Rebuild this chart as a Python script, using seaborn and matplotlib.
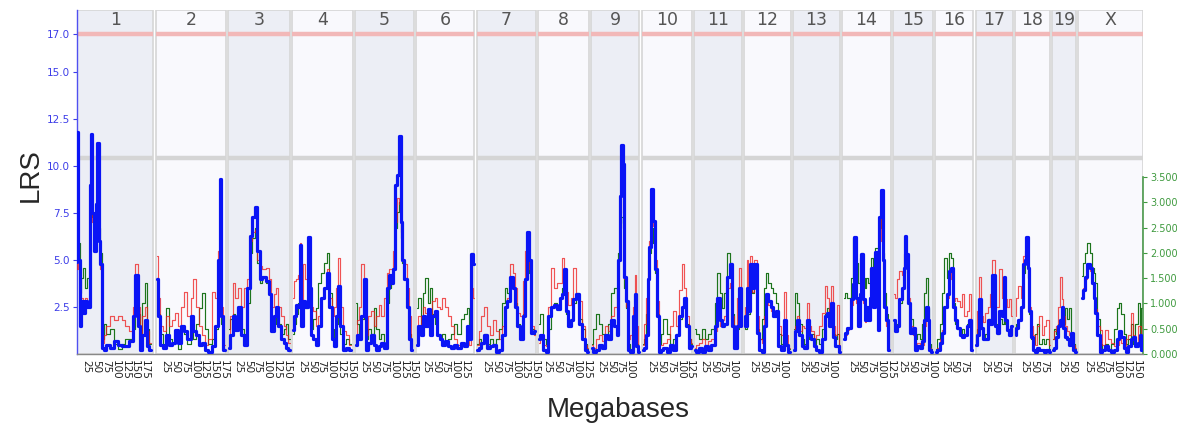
import matplotlib
matplotlib.use("Agg")
import matplotlib.pyplot as plt
import pandas as pd
import seaborn as sns

# ---------------- data ----------------
chrom_names = ["1", "2", "3", "4", "5", "6", "7", "8", "9", "10",
               "11", "12", "13", "14", "15", "16", "17", "18", "19", "X"]
chrom_lengths = [197.2, 181.7, 159.6, 155.6, 152.5, 149.5, 152.5, 131.7, 124.1, 130.0,
                 121.8, 121.3, 120.3, 125.2, 103.5, 98.3, 95.3, 90.8, 61.3, 166.7]
lrs_ticks = [2.5, 5.0, 7.5, 10.0, 12.5, 15.0, 17.0]
add_ticks = [0.0, 0.5, 1.0, 1.5, 2.0, 2.5, 3.0, 3.5]
significant = 17.0
suggestive = 10.45

# rows: (Mb, LRS blue, LRS red, additive effect green)
chr1 = [(0, 4.9, 4.5, 2.0), (2, 11.8, 6.0, 2.3), (5, 5.0, 4.5, 2.2), (9, 1.5, 1.5, 1.2),
        (14, 2.8, 3.0, 1.5), (18, 2.2, 2.5, 1.7), (24, 2.8, 3.0, 1.3), (30, 2.5, 2.5, 1.5),
        (36, 9.0, 8.0, 2.8), (38, 11.7, 9.0, 3.0), (42, 7.5, 7.0, 2.7), (46, 5.5, 5.5, 2.5),
        (50, 8.0, 7.5, 2.9), (55, 11.2, 9.0, 3.1), (58, 6.0, 6.0, 2.5), (62, 4.8, 4.5, 2.0),
        (66, 0.3, 0.6, 0.3), (72, 0.2, 1.0, 0.6), (80, 0.5, 1.5, 0.4), (90, 0.3, 2.0, 0.5),
        (100, 0.7, 1.8, 0.2), (110, 0.5, 2.0, 0.1), (120, 0.4, 1.8, 0.2), (130, 0.4, 1.5, 0.3),
        (140, 0.7, 1.2, 0.3), (148, 2.0, 2.5, 0.5), (154, 4.2, 4.8, 1.0), (160, 1.5, 2.5, 0.8),
        (166, 0.2, 0.5, 0.2), (172, 1.0, 2.0, 1.0), (178, 1.8, 2.5, 1.4), (184, 0.4, 1.2, 0.5),
        (190, 0.2, 0.6, 0.2)]
chr2 = [(3, 4.0, 5.2, 1.5), (8, 2.0, 3.0, 0.8), (14, 0.5, 1.5, 0.4), (22, 0.3, 1.2, 0.2),
        (30, 1.0, 2.0, 0.9), (38, 0.5, 1.5, 0.3), (46, 0.6, 1.8, 0.2), (54, 1.3, 2.2, 0.4),
        (62, 0.6, 1.5, 0.1), (70, 1.5, 2.5, 0.5), (78, 1.2, 3.3, 0.4), (86, 0.8, 2.0, 0.2),
        (94, 2.0, 3.0, 0.5), (100, 1.2, 4.0, 0.3), (108, 1.0, 2.5, 0.6), (116, 0.5, 1.5, 0.9),
        (124, 0.6, 1.0, 1.2), (132, 0.2, 0.5, 0.5), (140, 0.1, 0.8, 0.2), (150, 0.4, 3.3, 0.3),
        (158, 1.5, 3.0, 0.5), (164, 5.0, 5.5, 1.0), (167, 9.3, 7.0, 1.5), (172, 2.0, 2.5, 0.6),
        (178, 0.2, 0.5, 0.1)]
chr3 = [(2, 0.3, 0.6, 0.5), (8, 1.0, 2.0, 0.7), (14, 2.0, 3.8, 0.8), (20, 1.3, 3.0, 0.6),
        (28, 2.5, 3.5, 0.9), (36, 1.0, 2.5, 0.5), (44, 0.5, 3.5, 0.4), (52, 3.5, 4.0, 1.0),
        (58, 6.3, 6.0, 2.0), (66, 7.3, 6.5, 2.3), (72, 7.8, 6.6, 2.5), (78, 5.5, 5.0, 1.8),
        (84, 4.0, 4.7, 1.4), (92, 4.1, 4.5, 1.5), (100, 3.9, 4.6, 1.4), (108, 3.2, 4.0, 1.2),
        (114, 1.2, 2.5, 0.5), (120, 2.0, 3.2, 0.6), (126, 2.5, 3.5, 0.8), (132, 1.5, 2.5, 0.6),
        (140, 0.8, 2.0, 0.4), (146, 0.6, 1.5, 0.5), (152, 0.3, 1.0, 0.6), (158, 0.2, 0.6, 0.3)]
chr4 = [(2, 1.3, 3.0, 0.4), (6, 2.0, 3.9, 0.6), (12, 2.6, 4.0, 0.8), (18, 2.5, 4.2, 1.0),
        (20, 5.8, 5.9, 1.8), (24, 1.5, 2.8, 0.6), (30, 2.8, 4.8, 1.0), (36, 2.5, 4.0, 0.9),
        (42, 6.2, 5.5, 2.0), (46, 3.5, 3.5, 1.2), (50, 1.0, 2.5, 0.5), (58, 0.8, 2.3, 0.7),
        (64, 0.5, 1.5, 0.9), (70, 1.5, 2.0, 1.4), (78, 3.0, 3.0, 1.6), (86, 3.5, 3.5, 1.8),
        (92, 4.3, 4.5, 2.0), (98, 2.5, 3.0, 1.2), (104, 0.8, 2.0, 0.5), (110, 0.4, 2.5, 0.3),
        (116, 2.0, 3.5, 0.6), (120, 3.6, 5.1, 0.9), (126, 1.5, 2.5, 0.4), (134, 0.2, 1.2, 0.2),
        (142, 0.3, 1.0, 0.3), (150, 0.2, 0.5, 0.2)]
chr5 = [(2, 0.5, 1.0, 1.0), (6, 1.0, 1.8, 0.6), (12, 0.8, 2.5, 0.4), (20, 2.0, 4.8, 0.7),
        (24, 4.0, 4.0, 1.2), (30, 0.2, 1.0, 0.3), (38, 0.6, 2.0, 0.5), (44, 1.0, 2.3, 0.4),
        (52, 0.5, 1.5, 0.9), (58, 0.2, 2.0, 0.5), (64, 0.4, 2.6, 0.3), (72, 0.6, 2.0, 0.4),
        (80, 0.3, 3.0, 0.2), (86, 3.5, 4.3, 1.0), (90, 4.2, 4.5, 1.3), (96, 3.8, 4.5, 1.4),
        (102, 4.5, 5.5, 1.7), (106, 9.0, 7.0, 2.5), (112, 9.5, 8.3, 2.8), (116, 11.6, 8.0, 3.0),
        (120, 7.0, 6.5, 2.3), (124, 5.0, 5.0, 1.8), (130, 4.0, 4.8, 1.5), (136, 2.5, 3.5, 0.9),
        (142, 0.8, 2.0, 0.4), (148, 0.2, 0.6, 0.2)]
chr6 = [(2, 0.5, 1.0, 0.9), (8, 1.5, 2.0, 1.1), (14, 1.0, 1.5, 0.6), (20, 2.0, 2.5, 1.2),
        (26, 1.5, 2.2, 1.5), (32, 2.4, 2.3, 1.0), (38, 1.0, 2.0, 1.3), (44, 2.0, 2.8, 0.8),
        (50, 2.3, 3.0, 0.6), (56, 1.0, 2.5, 0.4), (64, 0.8, 2.4, 0.3), (70, 0.5, 3.0, 0.4),
        (78, 0.7, 2.5, 0.2), (86, 0.4, 2.0, 0.3), (94, 0.3, 1.5, 0.4), (102, 0.5, 0.8, 0.6),
        (110, 0.3, 0.5, 0.4), (118, 0.6, 0.6, 0.7), (126, 0.4, 0.5, 0.8), (134, 1.5, 1.0, 0.9),
        (140, 0.8, 0.5, 0.6), (144, 5.3, 3.5, 2.0), (148, 4.8, 3.0, 1.8)]
chr7 = [(2, 0.2, 0.5, 0.2), (8, 0.3, 1.2, 0.3), (16, 0.6, 2.0, 0.2), (22, 1.0, 2.5, 0.4),
        (30, 0.3, 1.5, 0.2), (38, 0.4, 1.0, 0.3), (46, 0.5, 1.8, 0.2), (54, 0.1, 1.2, 0.3),
        (62, 0.2, 0.8, 0.5), (70, 1.0, 1.5, 1.0), (76, 2.5, 2.5, 1.3), (82, 2.8, 3.0, 1.2),
        (90, 4.1, 4.8, 1.5), (96, 3.5, 4.3, 1.3), (102, 2.5, 3.5, 1.0), (108, 1.5, 2.2, 0.6),
        (116, 0.8, 2.0, 0.5), (122, 2.0, 3.9, 0.8), (128, 4.0, 5.5, 1.5), (133, 6.5, 6.0, 2.2),
        (138, 5.0, 4.5, 1.6), (144, 1.1, 1.5, 0.5), (150, 1.2, 1.0, 0.4)]
chr8 = [(2, 0.8, 0.6, 0.6), (8, 1.0, 0.8, 0.8), (16, 0.2, 0.5, 0.3), (24, 0.1, 0.4, 0.2),
        (30, 2.0, 2.5, 0.5), (36, 2.5, 4.6, 0.9), (44, 2.6, 3.5, 1.0), (52, 2.4, 3.8, 0.9),
        (60, 3.0, 3.8, 1.1), (64, 3.2, 5.1, 1.3), (68, 4.5, 4.5, 1.6), (74, 2.3, 3.3, 0.8),
        (80, 1.5, 2.6, 0.6), (88, 1.8, 3.0, 0.7), (94, 2.9, 4.6, 1.0), (102, 3.2, 3.0, 1.2),
        (110, 1.6, 2.8, 0.7), (116, 0.8, 1.5, 0.5), (124, 0.2, 0.5, 0.2), (130, 0.1, 0.3, 0.1)]
chr9 = [(2, 0.3, 0.5, 0.2), (8, 0.1, 0.3, 0.5), (16, 0.2, 0.8, 0.8), (24, 0.5, 1.0, 0.6),
        (32, 0.3, 0.7, 0.4), (40, 1.0, 1.5, 0.3), (48, 0.8, 1.2, 0.6), (56, 1.8, 2.0, 1.2),
        (62, 1.5, 2.5, 1.3), (68, 1.0, 3.0, 1.1), (72, 5.0, 5.0, 2.0), (75, 8.4, 7.5, 2.5),
        (79, 11.1, 9.0, 2.7), (83, 10.1, 8.5, 2.6), (88, 4.1, 4.0, 1.3), (92, 2.8, 2.5, 0.9),
        (96, 0.2, 0.8, 0.2), (104, 0.1, 1.0, 0.1), (110, 2.0, 2.5, 0.4), (113, 3.2, 4.2, 0.8),
        (118, 0.4, 1.5, 0.2), (122, 0.1, 0.4, 0.1)]
chr10 = [(2, 0.2, 0.5, 0.2), (8, 0.3, 1.6, 0.3), (14, 1.0, 3.0, 0.8), (18, 4.0, 5.0, 1.5),
         (22, 5.7, 6.0, 2.0), (27, 8.8, 8.6, 2.5), (31, 7.1, 6.8, 2.2), (36, 4.5, 5.0, 1.6),
         (41, 2.0, 2.8, 0.8), (46, 0.1, 0.5, 0.2), (52, 0.2, 0.5, 0.4), (60, 0.3, 0.6, 0.7),
         (68, 0.1, 0.8, 0.4), (76, 0.5, 1.5, 0.2), (84, 0.2, 2.3, 0.3), (92, 1.0, 1.5, 0.4),
         (100, 2.0, 3.4, 0.7), (108, 2.5, 4.8, 0.9), (112, 3.0, 3.5, 1.0), (118, 1.5, 2.0, 0.6),
         (124, 0.3, 0.8, 0.3), (129, 0.4, 0.6, 0.2)]
chr11 = [(2, 0.2, 0.3, 0.5), (8, 0.1, 0.5, 0.4), (16, 0.3, 0.6, 0.3), (24, 0.1, 0.8, 0.5),
         (32, 0.4, 0.5, 0.3), (40, 0.2, 0.7, 0.4), (48, 0.5, 0.8, 0.5), (56, 1.5, 1.2, 1.0),
         (62, 3.0, 2.5, 1.6), (68, 1.8, 1.5, 1.2), (74, 1.5, 1.8, 0.9), (80, 1.6, 2.0, 1.2),
         (88, 4.1, 3.5, 2.0), (94, 4.8, 3.8, 1.8), (100, 1.5, 2.0, 0.8), (106, 0.3, 1.0, 0.3),
         (112, 1.5, 3.0, 0.5), (118, 3.5, 4.6, 1.2), (121, 1.5, 2.0, 0.6)]
chr12 = [(2, 2.0, 2.5, 0.6), (6, 1.5, 2.0, 0.5), (9, 3.5, 5.0, 1.0), (14, 2.3, 3.0, 0.8),
         (19, 4.8, 5.2, 1.5), (24, 3.5, 3.3, 1.2), (30, 4.8, 5.0, 1.4), (36, 1.1, 2.0, 0.5),
         (42, 0.2, 0.8, 0.3), (50, 0.1, 0.6, 0.7), (56, 1.5, 2.0, 1.3), (60, 3.2, 3.0, 1.6),
         (66, 2.8, 2.6, 1.4), (72, 2.5, 2.3, 1.3), (80, 2.0, 2.3, 1.2), (84, 2.3, 2.0, 1.0),
         (92, 0.4, 1.5, 0.4), (100, 0.2, 1.0, 0.2), (106, 1.8, 3.3, 0.6), (112, 0.5, 1.0, 0.2),
         (118, 0.1, 0.3, 0.1)]
chr13 = [(2, 0.2, 0.4, 0.5), (8, 1.2, 1.5, 1.2), (12, 1.8, 2.0, 1.0), (18, 1.0, 1.2, 0.6),
         (26, 0.4, 1.5, 0.3), (32, 0.3, 1.4, 0.2), (38, 1.8, 2.7, 0.5), (44, 1.0, 1.5, 0.3),
         (50, 0.8, 1.2, 0.4), (56, 0.4, 0.8, 0.2), (64, 0.2, 1.0, 0.3), (70, 0.1, 1.5, 0.2),
         (78, 0.8, 2.2, 0.5), (84, 2.0, 3.6, 0.8), (90, 2.2, 3.0, 0.9), (96, 1.5, 2.2, 0.6),
         (100, 2.7, 3.6, 1.0), (106, 0.9, 1.5, 0.4), (112, 0.4, 1.0, 0.3), (116, 0.4, 2.6, 0.4),
         (120, 0.1, 0.5, 0.1)]
chr14 = [(4, 0.8, 0.8, 1.1), (9, 1.1, 1.0, 1.2), (16, 1.4, 1.3, 1.1), (22, 1.4, 1.4, 1.1),
         (26, 2.9, 2.6, 1.5), (30, 3.7, 3.3, 2.3), (34, 6.2, 5.5, 2.3), (38, 3.0, 2.7, 1.8),
         (43, 1.5, 1.5, 1.4), (48, 3.2, 2.8, 1.9), (52, 5.3, 4.8, 2.0), (56, 2.9, 2.7, 1.5),
         (60, 1.8, 1.7, 1.3), (65, 2.5, 2.3, 1.5), (70, 1.8, 1.8, 1.4), (74, 3.0, 2.8, 1.7),
         (77, 4.6, 4.2, 1.9), (82, 2.5, 2.5, 1.4), (89, 5.4, 5.0, 2.1), (94, 1.3, 1.5, 1.0),
         (99, 7.3, 6.0, 2.5), (103, 8.7, 7.5, 2.7), (107, 5.0, 4.5, 2.0), (112, 2.5, 2.5, 1.2),
         (117, 1.8, 1.5, 0.8), (121, 0.2, 0.3, 0.2)]
chr15 = [(2, 1.8, 3.2, 0.6), (8, 1.2, 3.0, 0.5), (14, 1.5, 4.0, 0.6), (19, 2.9, 4.4, 1.0),
         (26, 3.5, 4.2, 1.3), (30, 4.6, 5.3, 1.6), (33, 6.3, 6.1, 2.2), (37, 5.3, 5.0, 1.8),
         (42, 2.7, 3.0, 1.0), (48, 1.1, 1.5, 0.7), (54, 1.4, 1.0, 0.5), (60, 0.2, 0.5, 0.3),
         (66, 0.4, 0.6, 0.4), (72, 0.3, 0.4, 0.3), (78, 0.7, 0.5, 0.6), (84, 1.8, 1.5, 1.2),
         (88, 2.5, 2.0, 1.5), (92, 1.8, 1.2, 0.9), (96, 0.2, 0.3, 0.2), (102, 0.1, 0.2, 0.1)]
chr16 = [(2, 0.1, 0.2, 0.1), (8, 0.2, 0.3, 0.3), (14, 0.6, 0.8, 0.6), (20, 1.1, 1.3, 1.2),
         (26, 2.5, 2.5, 1.9), (32, 3.2, 3.0, 1.5), (38, 4.4, 4.0, 2.0), (43, 4.6, 4.3, 1.9),
         (48, 2.5, 2.8, 1.0), (54, 1.8, 3.0, 0.6), (60, 1.4, 2.8, 0.5), (66, 1.0, 2.5, 0.4),
         (72, 0.9, 3.2, 0.5), (78, 1.0, 2.0, 0.4), (84, 1.5, 2.3, 0.6), (90, 1.8, 3.2, 0.7),
         (96, 0.2, 0.5, 0.2)]
chr17 = [(2, 0.5, 1.0, 0.3), (6, 1.0, 2.3, 0.5), (12, 2.9, 4.1, 0.9), (16, 1.4, 2.0, 0.5),
         (22, 0.8, 1.7, 0.3), (28, 0.8, 2.2, 0.4), (34, 1.8, 2.5, 0.7), (40, 1.6, 3.2, 0.6),
         (46, 4.2, 5.0, 1.4), (52, 1.5, 2.5, 0.6), (58, 1.1, 2.5, 0.4), (64, 2.3, 4.5, 0.7),
         (70, 2.0, 3.0, 0.6), (74, 4.1, 3.8, 1.3), (78, 1.8, 2.9, 0.6), (84, 1.3, 2.5, 0.5),
         (90, 1.0, 2.9, 0.5), (94, 1.5, 2.0, 0.4)]
chr18 = [(2, 1.0, 2.0, 0.5), (6, 1.4, 3.0, 0.6), (12, 1.8, 3.6, 0.7), (18, 2.5, 3.0, 0.9),
         (24, 4.8, 5.2, 1.6), (28, 5.0, 5.5, 1.8), (31, 6.2, 5.8, 2.0), (35, 4.6, 4.5, 1.5),
         (40, 2.3, 2.5, 0.8), (44, 0.9, 1.5, 0.3), (48, 0.2, 1.0, 0.2), (54, 0.1, 0.5, 0.4),
         (60, 0.3, 1.5, 0.6), (66, 0.2, 2.0, 0.2), (72, 0.2, 1.0, 0.3), (78, 0.1, 1.5, 0.2),
         (84, 0.2, 1.8, 0.3), (90, 0.1, 0.5, 0.1)]
chr19 = [(2, 0.2, 0.8, 0.3), (6, 0.3, 1.2, 0.5), (12, 0.9, 1.5, 0.4), (18, 1.5, 2.5, 0.6),
         (22, 1.8, 4.1, 0.7), (26, 2.5, 2.9, 0.9), (30, 1.4, 2.0, 0.6), (34, 0.9, 1.5, 0.9),
         (40, 0.8, 1.2, 0.7), (44, 0.5, 1.0, 0.9), (50, 1.1, 1.0, 0.4), (55, 0.2, 0.5, 0.2),
         (60, 0.1, 0.3, 0.1)]
chrX = [(9, 3.0, 3.0, 1.55), (14, 3.4, 3.5, 1.8), (20, 4.1, 4.0, 2.0), (26, 4.8, 4.6, 2.2),
        (32, 4.6, 4.4, 2.0), (38, 3.8, 3.8, 1.7), (42, 3.0, 3.0, 1.6), (46, 2.2, 2.4, 1.4),
        (52, 1.0, 1.5, 0.7), (57, 0.1, 1.3, 0.2), (64, 0.2, 0.5, 0.1), (72, 0.4, 1.3, 0.2),
        (80, 0.2, 0.8, 0.1), (88, 0.1, 0.6, 0.2), (96, 0.2, 0.4, 0.5), (102, 0.8, 0.5, 0.9),
        (108, 1.2, 0.8, 1.0), (114, 0.9, 0.6, 0.8), (120, 0.3, 0.4, 0.4), (126, 0.1, 0.8, 0.2),
        (132, 0.4, 1.0, 0.3), (138, 0.8, 2.2, 0.6), (144, 0.9, 1.0, 0.2), (150, 0.4, 0.6, 0.6),
        (156, 0.6, 1.5, 1.0), (160, 1.0, 1.5, 0.3), (164, 0.2, 0.8, 0.9)]

chrom_rows = [chr1, chr2, chr3, chr4, chr5, chr6, chr7, chr8, chr9, chr10,
              chr11, chr12, chr13, chr14, chr15, chr16, chr17, chr18, chr19, chrX]

# ---------------- layout ----------------
W, H = 1177, 428
gap = 6.0
offsets = []
acc = 0.0
for L in chrom_lengths:
    offsets.append(acc)
    acc += L + gap
total = acc - gap

rows = []
for name, off, data in zip(chrom_names, offsets, chrom_rows):
    for mb, b, r, g in data:
        rows.append({"chrom": name, "x": off + mb, "lrs": b, "red": r, "add": g})
df = pd.DataFrame(rows)

sns.set_style("white")
plt.rcParams["font.family"] = ["DejaVu Sans"]

fig = plt.figure(figsize=(W / 100, H / 100), dpi=100)
ax = fig.add_axes([77 / W, 1 - 354 / H, (1143 - 77) / W, (354 - 10) / H])
ax2 = ax.twinx()
ax2.set_zorder(1)
ax.set_zorder(2)
ax.patch.set_visible(False)

ytop = (354 - 10) / 18.8
ax.set_xlim(0, total)
ax.set_ylim(0, ytop)
ratio = 50.57 / 18.8
ax2.set_ylim(0, ytop / ratio)

# chromosome panels (background, on the lower axes)
dark, light = "#eceef5", "#f9f9fd"
for i, (off, L) in enumerate(zip(offsets, chrom_lengths)):
    ax2.axvspan(off, off + L, ymin=0, ymax=1, facecolor=dark if i % 2 == 0 else light,
                edgecolor="#d6d6d6", lw=1.2, zorder=0)

# threshold lines and headers
for name, off, L in zip(chrom_names, offsets, chrom_lengths):
    ax.plot([off, off + L], [significant, significant], color="#f2b8b8", lw=3.2,
            solid_capstyle="butt", zorder=1)
    ax.plot([off, off + L], [suggestive, suggestive], color="#d5d5d5", lw=3.2,
            solid_capstyle="butt", zorder=1)
    ax.text(off + L / 2, (354 - 20) / 18.8, name, ha="center", va="center",
            fontsize=12.5, color="#555555", zorder=3)

# series
sns.lineplot(data=df, x="x", y="add", units="chrom", estimator=None, sort=False,
             color="#1c741c", lw=0.85, drawstyle="steps-mid", ax=ax2, legend=False, zorder=2)
sns.lineplot(data=df, x="x", y="red", units="chrom", estimator=None, sort=False,
             color="#ee1c1c", lw=0.85, alpha=0.75, drawstyle="steps-mid", ax=ax, legend=False, zorder=4)
sns.lineplot(data=df, x="x", y="lrs", units="chrom", estimator=None, sort=False,
             color="#0a14f5", lw=2.3, drawstyle="steps-mid", ax=ax, legend=False, zorder=5)

# left axis
ax.set_yticks(lrs_ticks)
ax.set_yticklabels([f"{v:.1f}" for v in lrs_ticks])
ax.tick_params(axis="y", colors="#3d3de8", labelsize=7.5, length=3, width=0.8, pad=2)
ax.spines["left"].set_color("#5050f0")
ax.spines["left"].set_linewidth(1.0)
for s in ("top", "right"):
    ax.spines[s].set_visible(False)
ax.spines["bottom"].set_color("#888888")
ax.spines["bottom"].set_linewidth(1.0)

# x ticks every 25 Mb within each chromosome
xt, xl = [], []
for off, L in zip(offsets, chrom_lengths):
    m = 25
    while m < L:
        xt.append(off + m)
        xl.append(str(m))
        m += 25
ax.set_xticks(xt)
ax.set_xticklabels(xl, rotation=-90, fontsize=7.5)
ax.tick_params(axis="x", colors="#222222", length=3, width=0.7, pad=1.5)

ax.set_xlabel("Megabases", fontsize=20, family=["Liberation Sans"])
ax.xaxis.set_label_coords((618 - 77) / 1066, (354 - 410) / 344)
ax.xaxis.label.set_va("center")
ax.set_ylabel("LRS", fontsize=20, family=["Liberation Sans"])
ax.yaxis.set_label_coords((31 - 77) / 1066, (354 - 175) / 344)
ax.yaxis.label.set_va("center")

# right axis
ax2.set_yticks(add_ticks)
ax2.set_yticklabels([f"{v:.3f}" for v in add_ticks])
ax2.tick_params(axis="y", colors="#3f9a3f", labelsize=7, length=3, width=0.8, pad=2)
for s in ("top", "left", "bottom"):
    ax2.spines[s].set_visible(False)
ax2.spines["right"].set_color("#4c9a4c")
ax2.spines["right"].set_linewidth(1.2)
ax2.spines["right"].set_bounds(0, 3.5)
ax2.set_ylabel("")
ax2.set_xlabel("")

fig.savefig("out.png", dpi=100)
